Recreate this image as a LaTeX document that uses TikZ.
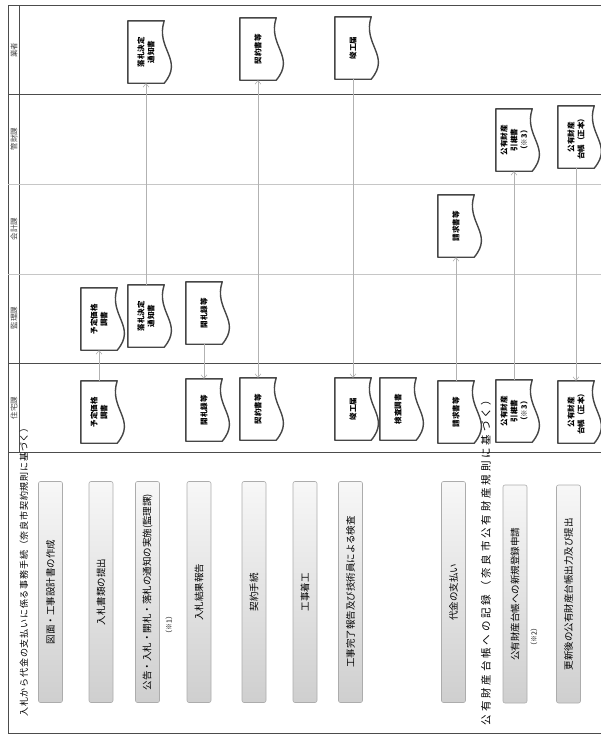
\documentclass[tikz,border=0pt]{standalone}
\usepackage{fontspec}
\setmainfont{Noto Sans CJK JP}
\usetikzlibrary{arrows.meta,calc}

\begin{document}
\begin{tikzpicture}[
    x=1pt, y=-1pt,
    >={Straight Barb[length=3.5pt,width=6pt]},
    frameline/.style={draw=gray!60!black, line width=0.8pt},
    laneline/.style={draw=gray!45, line width=0.6pt},
    lanename/.style={rotate=90, text=gray!55!black, font=\fontsize{7.5}{8}\selectfont, inner sep=0pt},
    title/.style={rotate=90, font=\fontsize{9}{10}\selectfont, inner sep=0pt},
    stepbar/.style={rotate=90, rectangle, rounded corners=2pt, draw=gray!65, line width=0.6pt, top color=gray!6, bottom color=gray!38, minimum width=221, minimum height=24, inner sep=1pt, font=\fontsize{9.5}{10}\selectfont},
    note/.style={rotate=90, font=\fontsize{7}{8}\selectfont, inner sep=0pt},
    docbox/.style={rotate=90, rectangle, minimum width=62, minimum height=36, inner sep=1pt, align=center, font=\bfseries\fontsize{7.5}{10}\selectfont,
        append after command={\pgfextra{
            \draw[draw=gray!55!black, line width=1.4pt, fill=white, line join=round]
              (\tikzlastnode.north west) -- (\tikzlastnode.north east) -- (\tikzlastnode.south east)
              .. controls ($(\tikzlastnode.south east)!0.45!(\tikzlastnode.south west)+(-9,0)$)
              and ($(\tikzlastnode.south east)!0.62!(\tikzlastnode.south west)+(20,0)$)
              .. (\tikzlastnode.south west) -- cycle;}}},
    flow/.style={->, draw=gray!60, line width=0.6pt}
]
\useasboundingbox (0,0) rectangle (601,736);

% Frame and lanes
\draw[frameline] (601,5) -- (8,5) -- (8,733) -- (601,733);
\draw[frameline] (19.5,5) -- (19.5,452);
\draw[frameline] (8,94) -- (601,94);
\draw[laneline] (8,184) -- (601,184);
\draw[laneline] (8,274) -- (601,274);
\draw[frameline] (8,363) -- (601,363);
\draw[frameline] (8,452) -- (601,452);

% Lane names
\node[lanename] (l_gyo) at (14,50) {業者};
\node[lanename] (l_kan) at (14,139) {管財課};
\node[lanename] (l_kai) at (14,229) {会計課};
\node[lanename] (l_kanri) at (14,318) {監理課};
\node[lanename] (l_ju) at (14,408) {住宅課};

% Section titles
\node[title] (title1) at (24,570) {\addfontfeature{LetterSpace=9}入札から代金の支払いに係る事務手続（奈良市契約規則に基づく）};
\node[title, font=\fontsize{10.5}{11}\selectfont] (title2) at (486,560) {\addfontfeature{LetterSpace=27}公有財産台帳への記録（奈良市公有財産規則に基づく）};

% Process steps
\node[stepbar] (s1) at (50.5,592) {図面・工事設計書の作成};
\node[stepbar] (s2) at (101,592) {入札書類の提出};
\node[stepbar] (s3) at (147.5,592) {公告・入札・開札・落札の通知の実施(監理課)};
\node[stepbar] (s4) at (199,592) {入札結果報告};
\node[stepbar] (s5) at (254,592) {契約手続};
\node[stepbar] (s6) at (305,592) {工事着工};
\node[stepbar] (s7) at (350.5,592) {工事完了報告及び技術員による検査};
\node[stepbar] (s8) at (453.5,592) {代金の支払い};
\node[stepbar, minimum width=218] (s9) at (515,594) {公有財産台帳への新規登録申請};
\node[stepbar, minimum width=218] (s10) at (568.5,594) {更新後の公有財産台帳出力及び提出};

\node[note] (n1) at (169,625) {（※1）};
\node[note] (n2) at (534,637) {（※2）};

% Documents: 業者
\node[docbox] (rakuG) at (146,52) {落札決定\\通知書};
\node[docbox] (keiG) at (258,49) {契約書等};
\node[docbox] (shunG) at (353,48) {竣工届};

% Documents: 管財課
\node[docbox] (hikiK) at (514,140) {公有財産\\引継書\\（※3）};
\node[docbox] (daiK) at (576,137) {公有財産\\台帳（正本）};

% Documents: 会計課
\node[docbox] (seiA) at (456,226) {請求書等};

% Documents: 監理課
\node[docbox] (yoteiK) at (99,319) {予定価格\\調書};
\node[docbox] (rakuK) at (146,316) {落札決定\\通知書};
\node[docbox] (kaiK) at (204,313) {開札録等};

% Documents: 住宅課
\node[docbox] (yoteiJ) at (99,412) {予定価格\\調書};
\node[docbox] (kaiJ) at (204,410) {開札録等};
\node[docbox] (keiJ) at (258,409) {契約書等};
\node[docbox] (shunJ) at (353,409) {竣工届};
\node[docbox] (kensaJ) at (398,409) {検査調書};
\node[docbox] (seiJ) at (456,412) {請求書等};
\node[docbox] (hikiJ) at (514,411) {公有財産\\引継書\\（※3）};
\node[docbox] (daiJ) at (576,412) {公有財産\\台帳（正本）};

% Flows
\draw[flow] (yoteiJ) -- (yoteiK);
\draw[flow] (rakuK) -- (rakuG);
\draw[flow] (kaiK) -- (kaiJ);
\draw[flow, <->] (keiJ) -- (keiG);
\draw[flow] (shunG) -- (shunJ);
\draw[flow] (seiJ) -- (seiA);
\draw[flow] (hikiJ) -- (hikiK);
\draw[flow] (daiK) -- (daiJ);

\end{tikzpicture}
\end{document}
